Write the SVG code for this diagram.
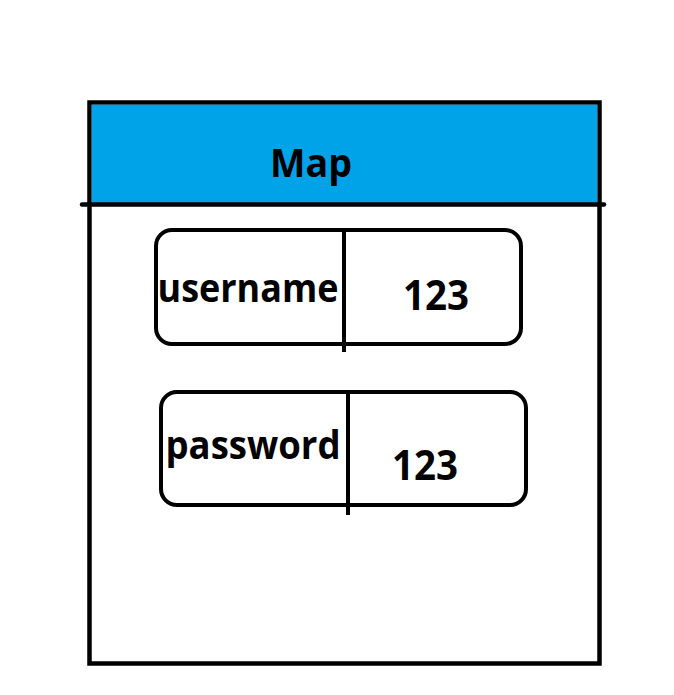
<svg xmlns="http://www.w3.org/2000/svg" width="674" height="695" viewBox="0 0 674 695">
<style>
.t{font-family:"Open Sans","Noto Sans","DejaVu Sans",sans-serif;font-weight:bold;fill:#000}
.box{fill:#fff;stroke:#000;stroke-width:4}
.ln{stroke:#000;stroke-width:4;fill:none}
</style>
<rect width="674" height="695" fill="#fff"/>
<g id="map">
<rect x="89.5" y="102.5" width="510" height="561" fill="#fff" stroke="#000" stroke-width="4.5"/>
<rect x="91.75" y="104.75" width="505.5" height="99" fill="#00A2E8"/>
<line x1="82" y1="204.5" x2="604" y2="204.5" stroke="#000" stroke-width="4.5" stroke-linecap="round"/>
<text class="t" x="311" y="177" font-size="40" text-anchor="middle" textLength="82" lengthAdjust="spacingAndGlyphs">Map</text>
</g>
<g id="entry-username">
<rect class="box" x="156" y="230" width="365" height="114" rx="16"/>
<text class="t" x="248" y="302" font-size="39" text-anchor="middle" textLength="181" lengthAdjust="spacingAndGlyphs">username</text>
<text class="t" x="436" y="310" font-size="41" text-anchor="middle" textLength="66" lengthAdjust="spacingAndGlyphs">123</text>
</g>
<g id="entry-password">
<rect class="box" x="161" y="392" width="365" height="113" rx="16"/>
<text class="t" x="253" y="459" font-size="39" text-anchor="middle" textLength="175" lengthAdjust="spacingAndGlyphs">password</text>
<text class="t" x="425" y="480" font-size="41" text-anchor="middle" textLength="66" lengthAdjust="spacingAndGlyphs">123</text>
</g>
<g id="connectors">
<line class="ln" x1="344" y1="230" x2="344" y2="352"/>
<line class="ln" x1="348" y1="392" x2="348" y2="515"/>
</g>
</svg>
